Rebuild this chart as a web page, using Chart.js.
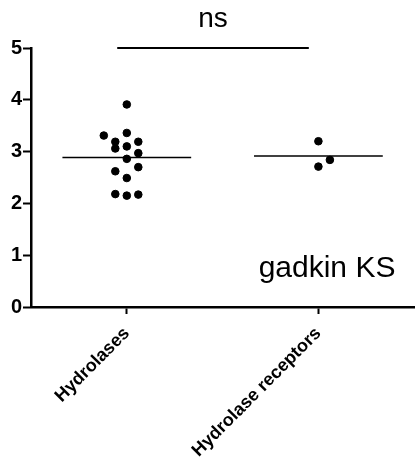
<!DOCTYPE html>
<html><head><meta charset="utf-8">
<script src="https://cdn.jsdelivr.net/npm/chart.js@4/dist/chart.umd.min.js"></script>
<style>html,body{margin:0;padding:0;background:#fff}#wrap{width:419px;height:474px}</style>
</head><body><div id="wrap"><canvas id="c" width="419" height="474"></canvas></div>
<script>
// data
const CATEGORIES=['Hydrolases','Hydrolase receptors'];
const HYDROLASES=[3.91,3.31,3.36,3.19,3.19,3.06,3.10,2.97,2.86,2.62,2.70,2.49,2.18,2.15,2.17];
const HYDROLASES_COL=[0,-2,0,-1,1,-1,0,1,0,-1,1,0,-1,0,1]; // scatter column of each dot
const RECEPTORS=[3.20,2.84,2.71];
const RECEPTORS_COL=[0,1,0];
const Y_TICKS=[0,1,2,3,4,5];
const SIG_TEXT='ns', SIG_LEVEL=5;
const NOTE='gadkin KS';

const COL_W=0.06, MEAN_HW=0.336, FONT='"Liberation Sans", Arial, sans-serif';
const mean=a=>a.reduce((s,v)=>s+v,0)/a.length;
const dots=(vals,cols,g)=>vals.map((v,i)=>({x:g+cols[i]*COL_W,y:v}));
const meanLine=(vals,g)=>[{x:g-MEAN_HW,y:mean(vals)},{x:g+MEAN_HW,y:mean(vals)}];
const line=(data,w)=>({type:'line',data,borderColor:'#000',borderWidth:w,pointRadius:0,clip:false});

const textPlugin={id:'txt',afterDraw(ch){
  const c=ch.ctx,x=ch.scales.x,y=ch.scales.y;
  c.save();c.fillStyle='#000';c.textAlign='center';c.textBaseline='alphabetic';
  c.font='28px '+FONT;
  c.fillText(SIG_TEXT,x.getPixelForValue(1.45),y.getPixelForValue(SIG_LEVEL)-21);
  c.font='30px '+FONT;
  c.fillText(NOTE,x.getPixelForValue(2.045),y.getPixelForValue(0.58));
  c.restore();
}};

new Chart(document.getElementById('c'),{
  type:'scatter',
  data:{datasets:[
    {data:dots(HYDROLASES,HYDROLASES_COL,1),backgroundColor:'#000',borderColor:'#000',pointRadius:3.8,pointHoverRadius:3.8},
    {data:dots(RECEPTORS,RECEPTORS_COL,2),backgroundColor:'#000',borderColor:'#000',pointRadius:3.8,pointHoverRadius:3.8},
    line(meanLine(HYDROLASES,1),1.5),
    line(meanLine(RECEPTORS,2),1.5),
    line([{x:0.95,y:SIG_LEVEL},{x:1.95,y:SIG_LEVEL}],2)
  ]},
  options:{responsive:false,animation:false,
    layout:{padding:{top:48,left:0,right:0,bottom:0}},
    plugins:{legend:{display:false},tooltip:{enabled:false}},
    scales:{
      x:{type:'linear',min:0.5,max:2.5,
        afterBuildTicks:s=>{s.ticks=[{value:1},{value:2}];},
        afterFit:s=>{s.height=167;},
        border:{color:'#000',width:2.5},
        grid:{drawOnChartArea:false,tickLength:7,tickWidth:2,tickColor:'#000'},
        ticks:{autoSkip:false,minRotation:45,maxRotation:45,padding:9,color:'#000',
          font:{family:FONT,size:18,weight:'bold'},callback:v=>CATEGORIES[v-1]||''}},
      y:{min:0,max:5,
        afterBuildTicks:s=>{s.ticks=Y_TICKS.map(v=>({value:v}));},
        afterFit:s=>{s.width=31;},
        border:{color:'#000',width:2.5},
        grid:{drawOnChartArea:false,tickLength:8,tickWidth:2,tickColor:'#000'},
        ticks:{padding:1,color:'#000',font:{family:FONT,size:20,weight:'bold'}}}
    }
  },
  plugins:[textPlugin]
});
</script></body></html>
